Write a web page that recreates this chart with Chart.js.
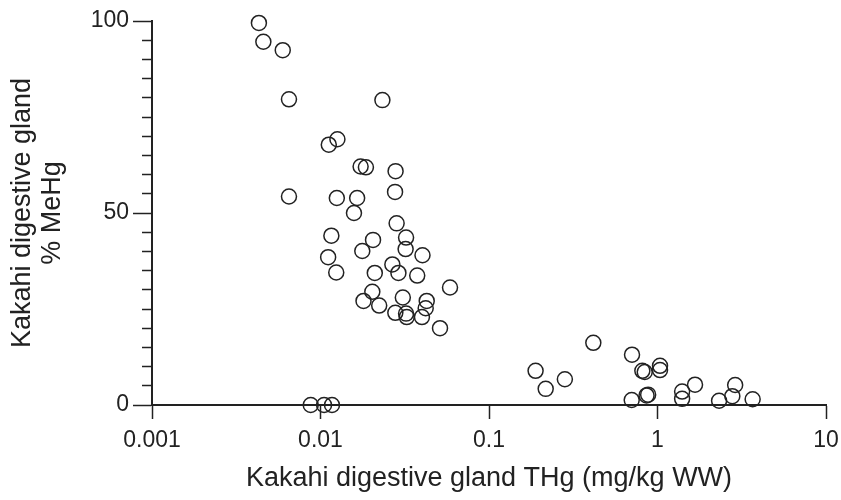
<!DOCTYPE html>
<html>
<head>
<meta charset="utf-8">
<script src="https://cdn.jsdelivr.net/npm/chart.js@4.4.1/dist/chart.umd.min.js"></script>
<style>
  html, body { margin: 0; padding: 0; background: #fff; }
  #wrap { width: 841px; height: 500px; }
</style>
</head>
<body>
<div id="wrap"><canvas id="scatter" width="841" height="500"></canvas></div>
<script>
// Kakahi digestive gland: total Hg (x, log) vs percent MeHg (y)
const thg = [
  0.00431, 0.00458, 0.00597, 0.0065, 0.0233, 0.0112, 0.0126, 0.0173, 0.0186, 0.0279,
  0.0277, 0.0065, 0.0125, 0.0165, 0.0158, 0.0283, 0.0116, 0.0205, 0.0322, 0.0177,
  0.0320, 0.0403, 0.0111, 0.0124, 0.0210, 0.0267, 0.0290, 0.0375, 0.0587, 0.0203,
  0.0180, 0.0223, 0.0308, 0.0427, 0.0421, 0.0278, 0.0322, 0.0325, 0.0400, 0.0512,
  0.00875, 0.0105, 0.0117,
  0.189, 0.217, 0.282, 0.416, 0.706, 0.813, 0.84, 1.035, 1.035, 0.703,
  0.861, 0.88, 1.40, 1.40, 1.67, 2.32, 2.78, 2.89, 3.67
];
const meHgPct = [
  99.5, 94.6, 92.4, 79.6, 79.4, 67.8, 69.2, 62.1, 61.9, 60.9,
  55.5, 54.3, 53.9, 53.9, 50.0, 47.3, 44.1, 43.0, 43.6, 40.1,
  40.6, 39.0, 38.5, 34.5, 34.4, 36.6, 34.4, 33.7, 30.6, 29.5,
  27.1, 25.9, 28.0, 27.1, 25.2, 24.0, 23.8, 22.9, 22.9, 20.0,
  0, 0, 0,
  8.9, 4.2, 6.7, 16.2, 13.1, 8.9, 8.6, 10.2, 9.1, 1.3,
  2.5, 2.7, 3.5, 1.6, 5.3, 1.1, 2.3, 5.2, 1.5
];

// axis ticks
const xTicks = [0.001, 0.01, 0.1, 1, 10];
const xTickLabels = ['0.001', '0.01', '0.1', '1', '10'];
const yMajorTicks = [0, 50, 100];
const yMinorStep = 5;

const ink = '#222';
const fontFam = '"Liberation Sans", Arial, sans-serif';

const points = thg.map((x, i) => ({ x: x, y: meHgPct[i] }));

new Chart(document.getElementById('scatter'), {
  type: 'scatter',
  data: {
    datasets: [{
      data: points,
      pointStyle: 'circle',
      pointRadius: 7.5,
      pointHoverRadius: 7.5,
      borderColor: ink,
      borderWidth: 1.5,
      backgroundColor: 'rgba(0,0,0,0)',
      clip: false
    }]
  },
  options: {
    responsive: false,
    animation: false,
    devicePixelRatio: 1,
    layout: { padding: { top: 21, right: 15, left: 0, bottom: 0 } },
    plugins: { legend: { display: false }, tooltip: { enabled: false } },
    scales: {
      x: {
        type: 'logarithmic',
        position: 'bottom',
        min: xTicks[0],
        max: xTicks[xTicks.length - 1],
        afterBuildTicks: scale => { scale.ticks = xTicks.map(v => ({ value: v, major: true })); },
        afterFit: scale => {
          scale.height = 95;
          // let the end labels hang over the plot edges like the original
          scale.paddingLeft = 0;
          scale.paddingRight = 0;
        },
        ticks: {
          autoSkip: false,
          maxRotation: 0,
          color: ink,
          padding: 8,
          font: { family: fontFam, size: 23 },
          callback: (v, i) => xTickLabels[i]
        },
        grid: {
          drawOnChartArea: false,
          drawTicks: true,
          tickLength: 14,
          tickColor: ink,
          tickWidth: 1.5
        },
        border: { display: true, color: ink, width: 2 },
        title: {
          display: true,
          text: 'Kakahi digestive gland THg (mg/kg WW)',
          color: ink,
          font: { family: fontFam, size: 27 },
          padding: { top: 0, bottom: 5 }
        }
      },
      y: {
        type: 'linear',
        position: 'left',
        min: 0,
        max: 100,
        afterFit: scale => { scale.width = 152; },
        ticks: {
          stepSize: yMinorStep,
          autoSkip: false,
          color: ink,
          padding: 4,
          font: { family: fontFam, size: 23 },
          callback: v => (yMajorTicks.includes(v) ? String(v) : '')
        },
        grid: {
          drawOnChartArea: false,
          drawTicks: true,
          tickLength: 19,
          tickColor: ink,
          tickWidth: 1.5,
          // minor ticks: only the 10px next to the axis
          tickBorderDash: ctx => (yMajorTicks.includes(ctx.tick && ctx.tick.value) ? [] : [0, 9, 10, 100])
        },
        border: { display: true, color: ink, width: 2 },
        title: {
          display: true,
          text: ['Kakahi digestive gland', '% MeHg'],
          color: ink,
          font: { family: fontFam, size: 27, lineHeight: 1.11 },
          padding: { top: 8, bottom: 0 }
        }
      }
    }
  }
});
</script>
</body>
</html>
